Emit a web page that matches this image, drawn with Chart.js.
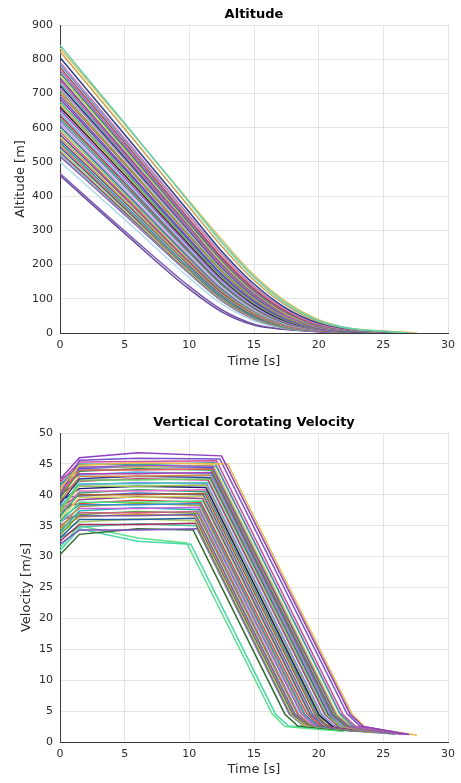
<!DOCTYPE html>
<html>
<head>
<meta charset="utf-8">
<script src="https://cdn.jsdelivr.net/npm/chart.js@4.4.1/dist/chart.umd.min.js"></script>
<style>
  html, body { margin: 0; padding: 0; background: #ffffff; width: 461px; height: 783px; overflow: hidden; }
  #altChart { position: absolute; left: 0; top: 0; }
  #velChart { position: absolute; left: 0; top: 408px; }
</style>
</head>
<body>
<canvas id="altChart" width="461" height="375"></canvas>
<canvas id="velChart" width="461" height="375"></canvas>
<script>
// ---------------- DATA (one entry per simulated run) ----------------
// Tick settings
const timeTicks = { min: 0, max: 30, step: 5 };
const altitudeTicks = { min: 0, max: 900, step: 100 };
const velocityTicks = { min: 0, max: 50, step: 5 };

// Vertical corotating velocity [m/s] key readings per run
const peakTime = 1.5;   // s, end of initial speed-up
const midTime = 6;      // s, mid-plateau reading
const startVel = [42.5,41.0,40.0,42.0,41.5,42.5,40.5,41.5,40.0,39.5,41.0,42.0,39.0,38.5,37.0,40.0,38.0,40.5,37.5,39.0,37.0,36.5,38.0,39.5,36.0,37.0,35.5,38.0,36.0,34.5,35.5,34.0,35.0,33.5,36.0,34.5,33.0,34.0,32.5,33.0,32.0,30.3,31.5,31.0];
const peakVel  = [46.0,44.8,45.6,45.3,45.0,44.4,44.6,44.2,44.0,43.8,43.4,43.2,43.0,42.6,42.4,42.2,41.8,41.6,41.4,41.0,40.6,40.3,40.0,39.8,39.6,39.2,38.8,38.6,38.4,38.1,37.8,37.4,37.1,36.8,36.6,36.4,36.0,35.6,35.2,34.8,34.3,33.6,35.0,34.5];
const midVel   = [46.8,45.2,45.9,45.4,44.9,44.8,44.5,44.6,44.0,44.2,43.4,43.7,43.0,43.0,42.4,42.6,41.8,42.0,41.4,41.4,40.6,40.8,40.0,40.3,39.6,39.7,38.8,39.1,38.4,38.6,37.8,37.9,37.1,37.3,36.6,36.9,36.0,36.1,35.2,35.3,34.3,34.5,33.0,32.5];
const breakTime = [12.49,12.97,12.36,12.10,11.97,12.09,11.83,11.82,11.77,11.69,11.70,11.62,11.59,11.63,11.57,11.45,11.49,11.35,11.31,11.29,11.33,11.29,11.21,11.09,11.05,11.03,11.05,10.90,10.83,10.80,10.72,10.74,10.66,10.63,10.49,10.43,10.47,10.46,10.49,10.52,10.60,10.29,9.79,10.12];
const breakVel  = [46.3,45.0,45.8,45.5,45.2,44.6,44.8,44.4,44.2,44.0,43.6,43.4,43.2,42.8,42.6,42.4,42.0,41.8,41.6,41.2,40.8,40.5,40.2,40.0,39.8,39.4,39.0,38.8,38.6,38.3,38.0,37.6,37.3,37.0,36.8,36.6,36.2,35.8,35.4,35.0,34.5,34.3,32.2,32.0];
const kneeTime  = [22.44,22.61,22.19,21.86,21.66,21.64,21.43,21.32,21.22,21.10,21.01,20.88,20.81,20.75,20.64,20.48,20.42,20.23,20.14,20.03,19.97,19.86,19.71,19.54,19.46,19.34,19.27,19.07,18.95,18.85,18.70,18.62,18.47,18.37,18.18,18.07,18.02,17.91,17.85,17.78,17.74,17.39,16.39,16.67];
const kneeVel   = [4.5,4.4,4.6,4.5,4.5,4.6,4.4,4.5,4.6,4.5,4.4,4.5,4.6,4.5,4.4,4.5,4.6,4.5,4.5,4.4,4.6,4.5,4.5,4.4,4.6,4.5,4.5,4.6,4.4,4.5,4.5,4.6,4.4,4.5,4.5,4.6,4.5,4.4,4.5,4.6,4.5,4.5,4.6,4.5];
const settleTime = [23.44,23.61,23.19,22.86,22.66,22.64,22.43,22.32,22.22,22.10,22.01,21.88,21.81,21.75,21.64,21.48,21.42,21.23,21.14,21.03,20.97,20.86,20.71,20.54,20.46,20.34,20.27,20.07,19.95,19.85,19.70,19.62,19.47,19.37,19.18,19.07,19.02,18.91,18.85,18.78,18.74,18.39,17.39,17.67];
const settleVel  = [2.5,2.4,2.6,2.5,2.6,2.5,2.7,2.6,2.5,2.6,2.7,2.6,2.5,2.7,2.6,2.6,2.8,2.6,2.7,2.6,2.7,2.8,2.6,2.7,2.7,2.6,2.8,2.7,2.6,2.8,2.7,2.8,2.7,2.6,2.8,2.7,2.8,2.7,2.8,2.7,2.8,2.6,2.5,2.6];
const endTime = [27.0,27.6,26.9,26.7,26.4,26.5,26.2,26.0,25.9,25.8,25.7,25.6,25.5,25.4,25.3,25.2,25.1,25.0,24.9,24.8,24.7,24.6,24.5,24.4,24.3,24.2,24.1,24.0,23.9,23.8,23.7,23.6,23.5,23.4,23.3,23.2,23.1,23.0,22.9,22.8,22.8,22.5,22.0,22.3];
const endVel  = [1.2,1.1,1.2,1.2,1.3,1.2,1.3,1.3,1.3,1.3,1.4,1.3,1.4,1.4,1.4,1.4,1.5,1.4,1.5,1.5,1.5,1.5,1.5,1.6,1.5,1.6,1.6,1.6,1.6,1.6,1.7,1.6,1.7,1.7,1.7,1.7,1.7,1.8,1.7,1.8,1.8,1.8,1.7,1.8];

// Altitude [m] readings per run at fixed times (null = already landed)
const altTimes = [0, 5, 10, 12.5, 15, 17.5, 20, 22.5, 25];
const alt0    = [841,832,822,805,792,785,776,768,760,752,745,738,730,723,715,708,700,692,684,676,668,660,652,644,636,628,620,612,604,596,588,580,572,564,557,550,543,536,529,523,516,500,460,466];
const alt5    = [613,610,597,580,569,564,556,548,542,536,529,522,518,513,507,498,493,484,479,472,467,461,453,445,440,433,428,419,413,407,400,395,387,382,374,369,365,359,354,350,346,332,291,298];
const alt10   = [381,385,368,353,343,341,332,326,321,316,311,305,302,299,294,286,283,275,271,266,263,258,252,245,241,236,233,225,220,216,210,207,201,197,190,186,184,180,177,175,173,161,128,136];
const alt12_5 = [265,273,254,239,230,230,221,216,212,207,203,198,195,193,189,183,180,173,170,166,164,160,155,149,146,142,140,133,129,126,122,119,115,112,106,103,102,99,97,95,94,85,62,68];
const alt15   = [163,169,154,143,136,135,129,125,122,119,116,112,110,108,105,101,99,94,92,89,87,84,81,77,75,72,71,66,64,61,58,57,54,52,49,47,46,44,43,42,41,36,23,26];
const alt17_5 = [86,91,80,72,68,68,63,61,59,56,55,52,51,50,48,45,44,41,40,38,37,35,33,31,30,28,28,25,24,23,21,21,19,19,17,16,16,15,15,14,14,13,10,11];
const alt20   = [36,39,33,29,26,26,24,23,22,21,20,19,18,18,17,16,15,14,14,13,13,13,12,12,11,11,11,10,10,10,9,9,8,8,8,7,7,7,7,7,6,6,4,4];
const alt22_5 = [13,13,12,11,10,10,10,9,9,9,9,8,8,8,7,7,7,6,6,6,6,5,5,5,4,4,4,4,3,3,3,3,2,2,2,2,1,1,1,1,1,null,null,null];
const alt25   = [5,6,5,4,4,4,3,3,2,2,2,2,1,1,1,0.5,0.3,null,null,null,null,null,null,null,null,null,null,null,null,null,null,null,null,null,null,null,null,null,null,null,null,null,null,null];
const landingAlt = 0;

// ---------------- STYLE ----------------
const FONT = "'DejaVu Sans', 'Liberation Sans', sans-serif";
const velColors = ['#8e3fbf','#e8b84a','#7a52c9','#d44fa0','#3aa6a0','#9b59d0','#c8c040','#4a62d8','#e05a5a','#2f8f4e','#b43fb4','#5ab0e0','#d08a3a','#3c3c9c','#6ad06a','#c04070','#40c8c0','#8a8ae8','#a0c040','#1a1a6e','#e070c0','#30a070','#b05a30','#5070c0','#d0d050','#904090','#40e080','#e04040','#3090d0','#a0a020','#c060e0','#20b0b0','#d06080','#60a040','#7060b0','#e09040','#2060a0','#b0d060','#a03060','#50c0a0','#8050c0','#2e6b2e','#5ee08a','#48d8a8'];
const altColors = ['#5fd0b0','#d8c060','#c8a050','#2a3f8f','#e07ab0','#4a9ad0','#b04848','#9a60d0','#3a8a5a','#d0d060','#6a50b0','#e05090','#40b8c0','#303060','#c080e0','#70b040','#d06040','#5060d0','#a03090','#30c090','#e0a040','#202040','#b050c0','#60c0e0','#c03050','#40a060','#8080e0','#d0a0d0','#3070b0','#90d050','#e06080','#505090','#c0b040','#7040a0','#20a0a0','#e08060','#4050a0','#b0e070','#a04080','#70d0c0','#9050b0','#b0dcec','#6a4c9c','#7b58b4'];

// ---------------- BUILD DATASETS ----------------
const altGrid = [alt0, alt5, alt10, alt12_5, alt15, alt17_5, alt20, alt22_5, alt25];
const altDatasets = alt0.map((_, i) => {
  const pts = [];
  altTimes.forEach((t, j) => { const h = altGrid[j][i]; if (h !== null) pts.push({ x: t, y: h }); });
  pts.push({ x: endTime[i], y: landingAlt });
  return { data: pts, borderColor: altColors[i], borderWidth: 1.5, pointRadius: 0, fill: false, cubicInterpolationMode: 'monotone' };
});

const velDatasets = startVel.map((v0, i) => ({
  data: [
    { x: 0, y: v0 },
    { x: peakTime, y: peakVel[i] },
    { x: midTime, y: midVel[i] },
    { x: breakTime[i], y: breakVel[i] },
    { x: kneeTime[i], y: kneeVel[i] },
    { x: settleTime[i], y: settleVel[i] },
    { x: endTime[i], y: endVel[i] }
  ],
  borderColor: velColors[i], borderWidth: 1.5, pointRadius: 0, fill: false, tension: 0
}));

function makeOptions(titleText, yTitle, yTicks, yTitlePad, xHeight) {
  return {
    responsive: false, animation: false, devicePixelRatio: 1,
    layout: { padding: { left: 0, right: 10, top: 0, bottom: 6 } },
    plugins: {
      legend: { display: false },
      tooltip: { enabled: false },
      title: { display: true, text: titleText, fullSize: false, color: '#000000',
               font: { family: FONT, size: 13, weight: 'bold' }, padding: { top: 7.2, bottom: 2.2 } }
    },
    scales: {
      x: {
        type: 'linear', min: timeTicks.min, max: timeTicks.max,
        ticks: { stepSize: timeTicks.step, color: '#2b2b2b', font: { family: FONT, size: 11 }, padding: 6, maxRotation: 0 },
        grid: { color: '#e4e4e4', drawTicks: false },
        border: { color: '#3a3a3a', width: 1 },
        title: { display: true, text: 'Time [s]', color: '#2b2b2b', font: { family: FONT, size: 13 }, padding: { top: 0, bottom: 0 } },
        afterFit: (s) => { s.height = xHeight; }
      },
      y: {
        type: 'linear', min: yTicks.min, max: yTicks.max,
        ticks: { stepSize: yTicks.step, color: '#2b2b2b', font: { family: FONT, size: 11 }, padding: 7 },
        grid: { color: '#e4e4e4', drawTicks: false },
        border: { color: '#3a3a3a', width: 1 },
        title: { display: true, text: yTitle, color: '#2b2b2b', font: { family: FONT, size: 13 }, padding: { top: yTitlePad, bottom: 0 } },
        afterFit: (s) => { s.width = 60; }
      }
    }
  };
}

new Chart(document.getElementById('altChart'), {
  type: 'line',
  data: { datasets: altDatasets },
  options: makeOptions('Altitude', 'Altitude [m]', altitudeTicks, 13, 36)
});

new Chart(document.getElementById('velChart'), {
  type: 'line',
  data: { datasets: velDatasets },
  options: makeOptions('Vertical Corotating Velocity', 'Velocity [m/s]', velocityTicks, 19, 35)
});
</script>
</body>
</html>
